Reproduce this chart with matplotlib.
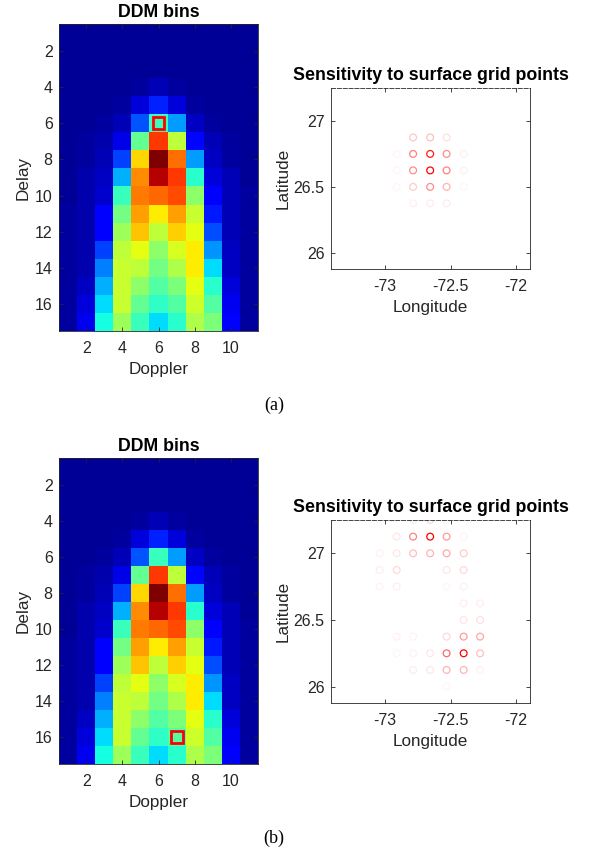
import numpy as np
import matplotlib
matplotlib.use('Agg')
import matplotlib.pyplot as plt
from matplotlib.patches import Rectangle

plt.rcParams['font.family'] = ['Liberation Sans', 'DejaVu Sans']
plt.rcParams['axes.unicode_minus'] = False

# DDM values (rows = delay 1..17, cols = doppler 1..11), normalised 0..1
ddm = [
    [0.02, 0.02, 0.02, 0.02, 0.02, 0.02, 0.02, 0.02, 0.02, 0.02, 0.02],
    [0.02, 0.02, 0.02, 0.02, 0.02, 0.02, 0.02, 0.02, 0.02, 0.02, 0.02],
    [0.02, 0.02, 0.02, 0.02, 0.02, 0.02, 0.02, 0.02, 0.02, 0.02, 0.02],
    [0.02, 0.02, 0.02, 0.02, 0.03, 0.05, 0.03, 0.02, 0.02, 0.02, 0.02],
    [0.02, 0.02, 0.02, 0.03, 0.08, 0.16, 0.08, 0.03, 0.02, 0.02, 0.02],
    [0.02, 0.02, 0.03, 0.05, 0.21, 0.42, 0.28, 0.06, 0.03, 0.02, 0.02],
    [0.02, 0.03, 0.04, 0.09, 0.47, 0.85, 0.58, 0.13, 0.05, 0.03, 0.02],
    [0.02, 0.03, 0.05, 0.19, 0.68, 1.00, 0.79, 0.28, 0.06, 0.03, 0.02],
    [0.02, 0.04, 0.06, 0.30, 0.76, 0.95, 0.85, 0.40, 0.08, 0.05, 0.02],
    [0.02, 0.04, 0.07, 0.42, 0.78, 0.80, 0.83, 0.52, 0.11, 0.05, 0.03],
    [0.03, 0.04, 0.12, 0.49, 0.74, 0.66, 0.74, 0.59, 0.15, 0.05, 0.03],
    [0.03, 0.04, 0.12, 0.54, 0.70, 0.58, 0.69, 0.625, 0.20, 0.05, 0.03],
    [0.03, 0.04, 0.19, 0.58, 0.625, 0.52, 0.61, 0.66, 0.27, 0.06, 0.03],
    [0.03, 0.04, 0.25, 0.59, 0.58, 0.49, 0.56, 0.66, 0.34, 0.06, 0.03],
    [0.03, 0.06, 0.30, 0.59, 0.52, 0.45, 0.50, 0.625, 0.40, 0.08, 0.03],
    [0.03, 0.08, 0.34, 0.59, 0.47, 0.41, 0.45, 0.60, 0.45, 0.10, 0.03],
    [0.03, 0.10, 0.375, 0.54, 0.42, 0.34, 0.40, 0.56, 0.50, 0.12, 0.03],
]
doppler_ticks = [2, 4, 6, 8, 10]
delay_ticks = [2, 4, 6, 8, 10, 12, 14, 16]

# selected DDM bin (doppler, delay)
sel_a = (6, 6)
sel_b = (7, 16)

# sensitivity of surface grid points, case (a)
lon_a = [-72.785, -72.655, -72.53,
         -72.91, -72.785, -72.655, -72.53, -72.4,
         -72.91, -72.785, -72.655, -72.53, -72.4,
         -72.91, -72.785, -72.655, -72.53, -72.4,
         -72.785, -72.655, -72.53]
lat_a = [26.875] * 3 + [26.75] * 5 + [26.625] * 5 + [26.5] * 5 + [26.375] * 3
w_a = [0.22, 0.25, 0.12,
       0.04, 0.5, 0.9, 0.45, 0.06,
       0.04, 0.45, 1.0, 0.5, 0.06,
       0.04, 0.2, 0.45, 0.3, 0.04,
       0.06, 0.08, 0.08]

# case (b)
lon_b = [-72.785, -72.655, -72.53,
         -72.91, -72.785, -72.655, -72.53, -72.4,
         -73.04, -72.91, -72.785, -72.655, -72.53, -72.4,
         -73.04, -72.91, -72.53, -72.4,
         -73.04, -72.91, -72.53, -72.4,
         -72.4, -72.275,
         -72.4, -72.275,
         -72.91, -72.785, -72.53, -72.4, -72.275,
         -72.91, -72.785, -72.655, -72.53, -72.4, -72.275,
         -72.785, -72.655, -72.53, -72.4, -72.275,
         -72.53]
lat_b = ([27.25] * 3 + [27.125] * 5 + [27.0] * 6 + [26.875] * 4 + [26.75] * 4
         + [26.625] * 2 + [26.5] * 2 + [26.375] * 5 + [26.25] * 6 + [26.125] * 5 + [26.0])
w_b = [0.08, 0.15, 0.05,
       0.1, 0.5, 1.0, 0.4, 0.05,
       0.05, 0.1, 0.25, 0.3, 0.35, 0.2,
       0.07, 0.15, 0.1, 0.15,
       0.05, 0.07, 0.04, 0.06,
       0.07, 0.07,
       0.1, 0.12,
       0.06, 0.05, 0.15, 0.4, 0.35,
       0.04, 0.05, 0.1, 0.6, 1.0, 0.25,
       0.08, 0.1, 0.3, 0.3, 0.05,
       0.04]

axis_col = '#262626'
tick_fs = 11.5
label_fs = 12.3
title_fs = 12.8


def style_axes(ax):
    for s in ax.spines.values():
        s.set_color(axis_col)
        s.set_linewidth(0.6)
    ax.tick_params(direction='in', top=True, right=True, length=3, width=0.6,
                   colors=axis_col, labelsize=tick_fs, labelcolor=axis_col)
    ax.tick_params(axis='x', pad=7.5)
    ax.tick_params(axis='y', pad=4.5)


def draw_ddm(ax, sel):
    data = np.array(ddm)
    ax.imshow(data, cmap='jet', vmin=0, vmax=1, aspect='auto',
              extent=(0.5, 11.5, 17.5, 0.5), interpolation='nearest')
    ax.add_patch(Rectangle((sel[0] - 0.33, sel[1] - 0.33), 0.66, 0.66,
                           fill=False, edgecolor='red', linewidth=2))
    ax.set_xlim(0.5, 11.5)
    ax.set_ylim(17.5, 0.5)
    ax.set_xticks(doppler_ticks)
    ax.set_yticks(delay_ticks)
    style_axes(ax)
    ax.set_title('DDM bins', fontsize=title_fs, fontweight='bold', pad=5)
    ax.set_xlabel('Doppler', fontsize=label_fs, color=axis_col, labelpad=4)
    ax.set_ylabel('Delay', fontsize=label_fs, color=axis_col, labelpad=3)


def draw_sens(ax, lon, lat, w):
    cols = [(1.0, 1.0 - v, 1.0 - v) for v in w]
    order = np.argsort(w)
    ax.scatter(np.array(lon)[order], np.array(lat)[order], s=24,
               facecolors='none', edgecolors=[cols[i] for i in order], linewidths=0.9)
    ax.set_xlim(-73.41, -71.895)
    ax.set_ylim(25.877, 27.25)
    ax.set_xticks([-73, -72.5, -72])
    ax.set_xticklabels(['-73', '-72.5', '-72'])
    ax.set_yticks([26, 26.5, 27])
    ax.set_yticklabels(['26', '26.5', '27'])
    style_axes(ax)
    ax.spines['top'].set_linestyle((0, (5, 2)))
    ax.set_title('Sensitivity to surface grid points', fontsize=title_fs,
                 fontweight='bold', pad=6)
    ax.set_xlabel('Longitude', fontsize=label_fs, color=axis_col, labelpad=4)
    ax.set_ylabel('Latitude', fontsize=label_fs, color=axis_col, labelpad=2)


W, H = 592, 852
fig = plt.figure(figsize=(W / 100, H / 100), dpi=100)

ax1 = fig.add_axes([59 / W, 1 - 331 / H, 199 / W, 307 / H])
ax2 = fig.add_axes([331 / W, 1 - 269 / H, 199 / W, 181 / H])
ax3 = fig.add_axes([59 / W, 1 - 764 / H, 199 / W, 306 / H])
ax4 = fig.add_axes([331 / W, 1 - 703 / H, 199 / W, 183 / H])

draw_ddm(ax1, sel_a)
draw_sens(ax2, lon_a, lat_a, w_a)
draw_ddm(ax3, sel_b)
draw_sens(ax4, lon_b, lat_b, w_b)

fig.text(274 / W, 1 - 405 / H, '(a)', ha='center', va='center', fontsize=13,
         family=['Liberation Serif', 'DejaVu Serif'])
fig.text(274 / W, 1 - 838 / H, '(b)', ha='center', va='center', fontsize=13,
         family=['Liberation Serif', 'DejaVu Serif'])

fig.savefig('out.png', dpi=100)
